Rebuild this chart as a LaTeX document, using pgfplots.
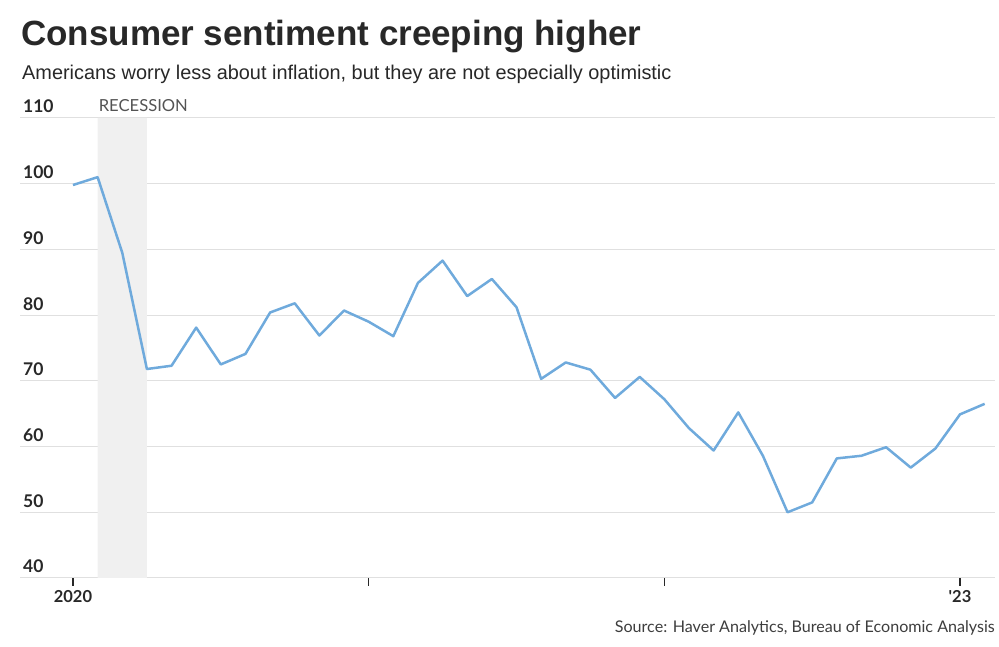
\documentclass[border=0pt]{standalone}
\usepackage{pgfplots}
\pgfplotsset{compat=1.18}
\usepackage{fontspec}
\setmainfont{Liberation Sans}
\newfontfamily\lato{Lato}

\definecolor{lineblue}{RGB}{111,170,220}
\definecolor{gridgray}{RGB}{224,224,224}
\definecolor{recgray}{RGB}{240,240,240}
\definecolor{txt}{RGB}{40,40,40}

\pgfplotstableread{
m   v
0   99.8
1   101.0
2   89.5
3   71.8
4   72.3
5   78.1
6   72.5
7   74.1
8   80.4
9   81.8
10  76.9
11  80.7
12  79.0
13  76.8
14  84.9
15  88.3
16  82.9
17  85.5
18  81.2
19  70.3
20  72.8
21  71.7
22  67.4
23  70.6
24  67.2
25  62.8
26  59.4
27  65.2
28  58.6
29  50.0
30  51.5
31  58.2
32  58.6
33  59.9
34  56.8
35  59.7
36  64.9
37  66.5
}\sentiment

\begin{document}
\begin{tikzpicture}[x=1pt,y=1pt]
\useasboundingbox (0,0) rectangle (999,647);
\node[anchor=base west, inner sep=0pt, text=txt, font=\bfseries\fontsize{35}{35}\selectfont] at (21,601) {Consumer sentiment creeping higher};
\node[anchor=base west, inner sep=0pt, text=txt, font=\fontsize{19.9}{19.9}\selectfont] at (22,567) {Americans worry less about inflation, but they are not especially optimistic};
\node[anchor=base east, inner sep=0pt, text=txt!90, font=\lato\fontsize{16.1}{16.1}\selectfont] at (995,14) {Source: Haver Analytics, Bureau of Economic Analysis};

\begin{axis}[
    at={(20pt,69pt)}, anchor=south west,
    scale only axis,
    width=975pt, height=460pt,
    xmin=-2.15, xmax=37.42,
    ymin=40, ymax=110,
    axis line style={draw=none},
    ytick={40,50,...,110},
    ymajorgrids=true,
    grid style={line width=1pt, color=gridgray},
    ytick style={draw=none},
    yticklabel style={anchor=base west, inner sep=0pt, xshift=11pt, yshift=5pt,
        text=txt, font=\lato\bfseries\fontsize{17.5}{17.5}\selectfont},
    /pgf/number format/assume math mode=true,
    xtick={0,12,24,36},
    xticklabels={2020,,,'23},
    xtick pos=bottom,
    tick align=outside,
    major tick length=8pt,
    xtick style={draw=txt, line width=1.2pt},
    xticklabel style={text=txt, font=\lato\bfseries\fontsize{16.5}{16.5}\selectfont, yshift=-1pt},
    clip=false,
]
\addplot[fill=recgray, draw=none] coordinates {(1,40) (1,110) (3,110) (3,40)} \closedcycle;
\addplot[color=lineblue, line width=2.5pt, line join=round] table[x=m, y=v] {\sentiment};
\node[anchor=base west, inner sep=0pt, text=txt!80, font=\lato\fontsize{16.6}{16.6}\selectfont] at (axis cs:1,110) [yshift=6pt, xshift=1pt] {RECESSION};
\end{axis}
\end{tikzpicture}
\end{document}
